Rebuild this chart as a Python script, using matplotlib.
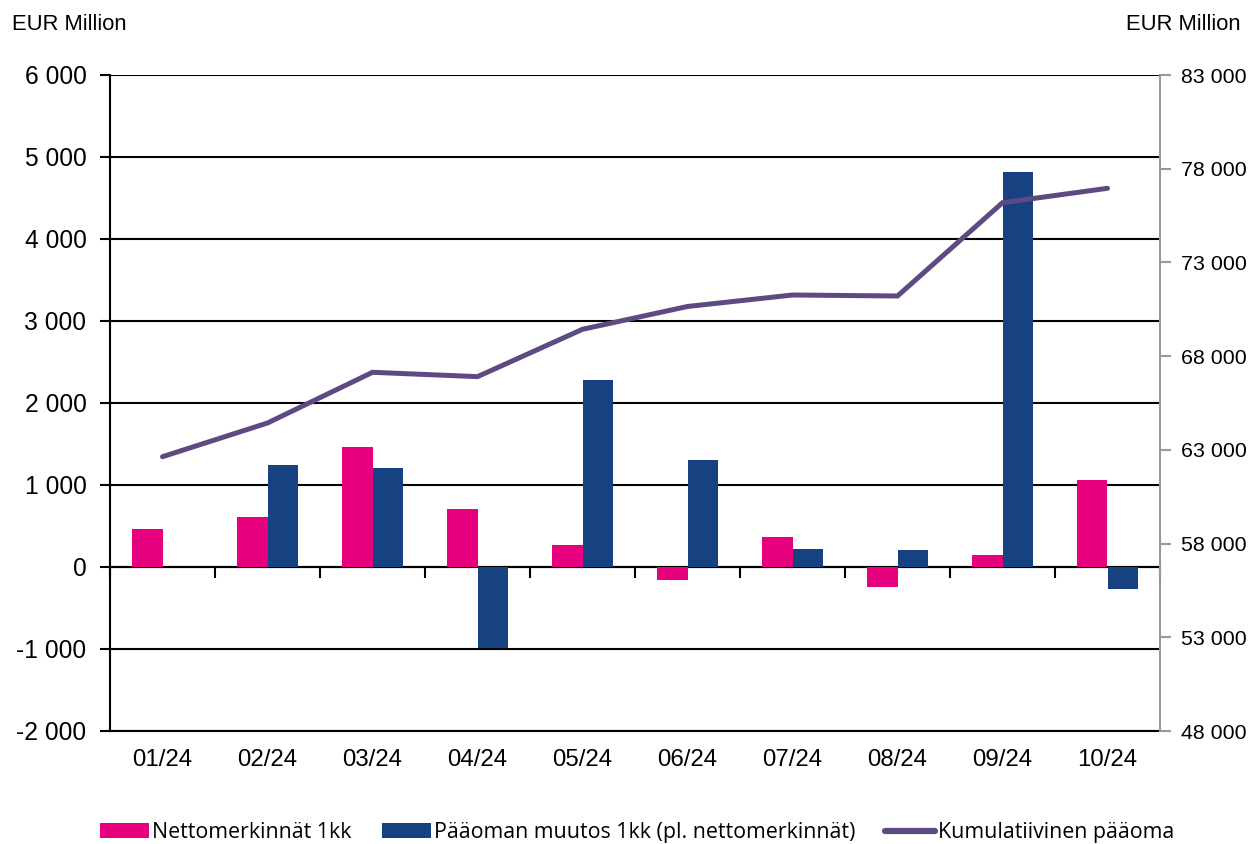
import numpy as np
import matplotlib.pyplot as plt
from matplotlib.ticker import FuncFormatter

# data
months = [ "01/24", "02/24", "03/24", "04/24", "05/24",
           "06/24", "07/24", "08/24", "09/24", "10/24" ]
netto = [ 460, 614, 1463, 703, 268, -159, 366, -240, 146, 1057 ]
paaoma_muutos = [ 0, 1240, 1211, -992, 2284, 1309, 216, 211, 4821, -268 ]
kumulatiivinen = [ 62635, 64433, 67138, 66906, 69432,
                   70650, 71262, 71209, 76187, 76955 ]

c_pink = '#e6007e'
c_blue = '#164282'
c_line = '#5e4a82'

def fmt_space( v, pos=None ):
    return '{0:,.0f}'.format( v ).replace( ',', ' ' )

fig = plt.figure( figsize=( 12.51, 8.44 ), dpi=100 )
ax = fig.add_axes( [ 110/1251, 1-731/844, 1050/1251, 656/844 ] )

x = np.arange( len( months ) )
bw = 0.286

ax.bar( x - bw/2, netto, width=bw, color=c_pink, linewidth=0,
        label='Nettomerkinnät 1kk', zorder=3 )
ax.bar( x + bw/2, paaoma_muutos, width=bw, color=c_blue, linewidth=0,
        label='Pääoman muutos 1kk (pl. nettomerkinnät)', zorder=3 )

ax.set_xlim( -0.5, len( months ) - 0.5 )
ax.set_ylim( -2000, 6000 )
ax.set_yticks( np.arange( -2000, 6001, 1000 ) )
ax.yaxis.set_major_formatter( FuncFormatter( fmt_space ) )
ax.grid( axis='y', color='k', linewidth=1.5, zorder=1 )
ax.set_axisbelow( True )

ax.set_xticks( x )
ax.set_xticklabels( months )
ax.tick_params( axis='x', length=0, pad=13, labelsize=17.3 )
ax.tick_params( axis='y', length=7, width=1.5, pad=10, labelsize=17.7,
                direction='out' )

for s in [ 'top', 'right' ]:
    ax.spines[s].set_visible( False )
ax.spines['left'].set_linewidth( 1.5 )
ax.spines['bottom'].set_linewidth( 1.5 )

# category boundary ticks along the zero line
sec = ax.secondary_xaxis( 0.25 )
sec.set_xticks( np.arange( -0.5, len( months ), 1.0 ) )
sec.set_xticklabels( [] )
sec.tick_params( axis='x', direction='out', length=8, width=1.5 )
sec.spines['bottom'].set_linewidth( 1.5 )

ax2 = ax.twinx()
ax2.plot( x, kumulatiivinen, color=c_line, linewidth=3.6,
          solid_capstyle='round', solid_joinstyle='miter',
          label='Kumulatiivinen pääoma', zorder=4 )
ax2.set_ylim( 48000, 83000 )
ax2.set_yticks( np.arange( 48000, 83001, 5000 ) )
ax2.yaxis.set_major_formatter( FuncFormatter( fmt_space ) )
ax2.tick_params( axis='y', length=8, width=1.5, color='#999999', pad=7,
                 labelsize=15.4 )
for s in [ 'top', 'left', 'bottom' ]:
    ax2.spines[s].set_visible( False )
ax2.spines['right'].set_color( '#999999' )
ax2.spines['right'].set_linewidth( 1.5 )

for t in ax.get_xticklabels() + ax.get_yticklabels() + ax2.get_yticklabels():
    t.set_family( [ 'Liberation Sans', 'DejaVu Sans' ] )

fig.text( 12/1251, 1-25/844, 'EUR Million', fontsize=15.8,
          family=[ 'Liberation Sans', 'DejaVu Sans' ], ha='left', va='center' )
fig.text( 1240/1251, 1-25/844, 'EUR Million', fontsize=15.8,
          family=[ 'Liberation Sans', 'DejaVu Sans' ], ha='right', va='center' )

h1, l1 = ax.get_legend_handles_labels()
h2, l2 = ax2.get_legend_handles_labels()
leg = fig.legend( h1 + h2, l1 + l2, loc='lower center',
            bbox_to_anchor=( 637/1251, -0.017 ), ncol=3, frameon=False,
            prop={ 'family': [ 'Open Sans', 'DejaVu Sans' ], 'size': 15.4 },
            handlelength=2.3, handleheight=0.7, handletextpad=0.15,
            columnspacing=1.4, borderpad=0.2 )
leg.get_lines()[0].set_linewidth( 4.5 )

fig.savefig( 'out.png', dpi=100 )
